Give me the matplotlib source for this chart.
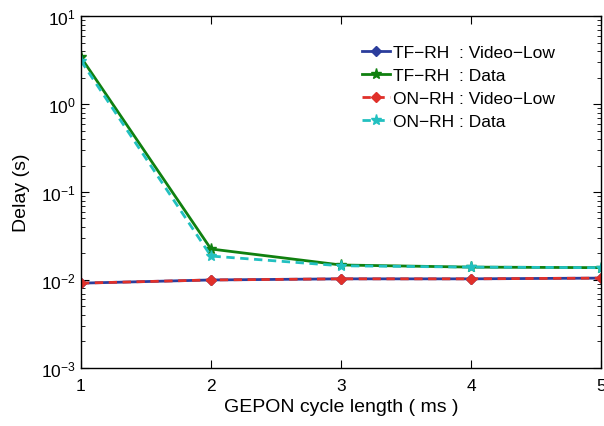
import matplotlib
matplotlib.use("Agg")
import matplotlib.pyplot as plt
from matplotlib.ticker import LogLocator, NullFormatter

plt.rcParams['font.family'] = ['Liberation Sans', 'DejaVu Sans']
plt.rcParams['mathtext.fontset'] = 'custom'
plt.rcParams['mathtext.rm'] = 'Liberation Sans'

cycle_ms = [1, 2, 3, 4, 5]
tf_video = [0.0092, 0.0100, 0.0103, 0.0103, 0.0105]
tf_data = [3.4, 0.0225, 0.0148, 0.0140, 0.0138]
on_video = [0.0092, 0.0100, 0.0103, 0.0103, 0.0105]
on_data = [3.1, 0.0187, 0.0145, 0.0140, 0.0138]

labels = ["TF\u2212RH  : Video\u2212Low", "TF\u2212RH  : Data",
          "ON\u2212RH : Video\u2212Low", "ON\u2212RH : Data"]

fig = plt.figure(figsize=(6.04, 4.27), dpi=100)
ax = fig.add_axes([0.134, 0.136, 0.861, 0.824])

dash = (0, (3.0, 2.0))
ax.plot(cycle_ms, tf_video, '-', color='#2b3d9c', lw=2.0, marker='D', ms=5, label=labels[0])
ax.plot(cycle_ms, tf_data, '-', color='#10800f', lw=2.0, marker='*', ms=8, label=labels[1])
ax.plot(cycle_ms, on_video, linestyle=dash, color='#e0302a', lw=2.0, marker='D', ms=5, label=labels[2])
ax.plot(cycle_ms, on_data, linestyle=dash, color='#22c0c0', lw=2.0, marker='*', ms=8, label=labels[3])

ax.set_yscale('log')
ax.set_ylim(1e-3, 1e1)
ax.set_xlim(1, 5)
ax.set_xticks(cycle_ms)
ax.yaxis.set_minor_locator(LogLocator(base=10, subs=range(2, 10)))
ax.yaxis.set_minor_formatter(NullFormatter())
ax.tick_params(which='both', direction='in', top=True, right=True, labelsize=12.5)
ax.tick_params(which='major', length=6)
ax.tick_params(which='minor', length=3)
ax.tick_params(axis='x', pad=7)
for s in ax.spines.values():
    s.set_linewidth(1.0)

ax.set_xlabel("GEPON cycle length ( ms )", fontsize=14)
ax.set_ylabel("Delay (s)", fontsize=14, labelpad=8)

fig.legend(loc='upper left', bbox_to_anchor=(362 / 604, 1 - 46 / 427), frameon=False,
           borderpad=0, borderaxespad=0,
           fontsize=12.5, handlelength=1.6, handletextpad=0.2, labelspacing=0.45)

fig.savefig("out.png", dpi=100)
